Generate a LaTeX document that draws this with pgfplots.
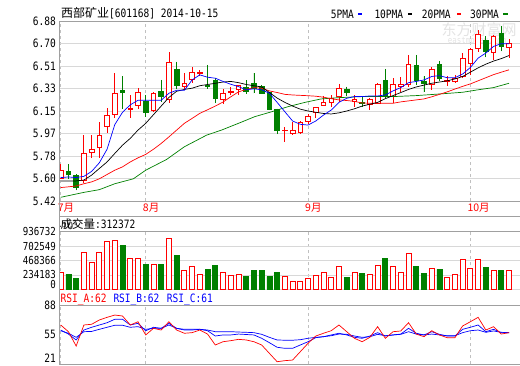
\documentclass[border=0pt]{standalone}
\usepackage{fontspec}
\usepackage{pgfplots}
\pgfplotsset{compat=1.18}
\usepgfplotslibrary{statistics}
\setmainfont{DejaVu Sans Mono}[FakeStretch=0.83]
\newfontfamily\cjk{Noto Sans CJK SC}
\definecolor{kred}{HTML}{FF0000}
\definecolor{kgreen}{HTML}{008000}
\definecolor{kblue}{HTML}{0000FF}
\definecolor{framec}{HTML}{A0A0A0}
\definecolor{gridc}{HTML}{D8D8D8}
\definecolor{dashc}{HTML}{C0C0C0}
\newcommand{\fs}{\fontsize{11.5}{12}\selectfont}
\newcommand{\up}[5]{\addplot[draw=kred, line width=0.8pt, fill=white, boxplot prepared={draw direction=y, draw position=#1, lower whisker=#2, lower quartile=#3, median=#3, upper quartile=#4, upper whisker=#5, box extend=0.6, whisker extend=0}] coordinates {};}
\newcommand{\dn}[5]{\addplot[draw=kgreen, line width=0.8pt, fill=kgreen, boxplot prepared={draw direction=y, draw position=#1, lower whisker=#2, lower quartile=#3, median=#3, upper quartile=#4, upper whisker=#5, box extend=0.6, whisker extend=0}] coordinates {};}
\pgfplotsset{
  panel/.style={
    scale only axis, width=461.5pt, xmin=-0.155, xmax=59.55,
    anchor=north west,
    axis line style={draw=framec, line width=0.8pt},
    major tick length=0pt,
    xtick={0,11,32,53},
    xmajorgrids,
    x grid style={draw=dashc, dashed, line width=0.6pt},
    y grid style={draw=gridc, line width=0.6pt},
    yticklabel style={inner sep=0pt, xshift=-3.5pt, font=\fontsize{11}{11}\selectfont},
  },
}
\begin{document}
\begin{tikzpicture}
\useasboundingbox (0pt,0pt) rectangle (520pt,-365pt);
% watermark
\node[text=gray!22, font=\cjk\fontsize{15}{15}\selectfont] at (479pt,-30pt) {东方财富网};
\node[text=gray!22, font=\fontsize{9}{9}\selectfont] at (477pt,-41pt) {eastmoney.com};
% titles
\node[anchor=west, inner sep=0pt, font=\fs] at (61pt,-13pt) {{\cjk\fontsize{12}{12}\selectfont 西部矿业}[601168] 2014-10-15};
\node[anchor=west, inner sep=0pt, font=\fs] at (330.7pt,-14pt) {5PMA};
\fill[kblue] (357.7pt,-13.3pt) rectangle (361.7pt,-14.8pt);
\node[anchor=west, inner sep=0pt, font=\fs] at (374.3pt,-14pt) {10PMA};
\fill[black] (408pt,-13.3pt) rectangle (412pt,-14.8pt);
\node[anchor=west, inner sep=0pt, font=\fs] at (421.7pt,-14pt) {20PMA};
\fill[kred] (457pt,-13.3pt) rectangle (461pt,-14.8pt);
\node[anchor=west, inner sep=0pt, font=\fs] at (470pt,-14pt) {30PMA};
\fill[kgreen] (503pt,-13.3pt) rectangle (508pt,-14.8pt);
\node[anchor=west, inner sep=0pt, font=\fs] at (60.5pt,-224pt) {{\cjk\fontsize{11.5}{12}\selectfont 成交量}:312372};
\node[anchor=west, inner sep=0pt, font=\fs, text=kred] at (60.5pt,-300pt) {RSI\_A:62};
\node[anchor=west, inner sep=0pt, font=\fs, text=kblue] at (113.3pt,-300pt) {RSI\_B:62};
\node[anchor=west, inner sep=0pt, font=\fs, text=kblue] at (166.7pt,-300pt) {RSI\_C:61};
% main price panel
\begin{axis}[panel, at={(59.5pt,-21pt)}, height=180pt, ymin=5.42, ymax=6.88,
  ytick={5.42,5.6025,5.785,5.9675,6.15,6.3325,6.515,6.6975,6.88},
  yticklabels={5.42,5.60,5.78,5.97,6.15,6.33,6.51,6.70,6.88},
  yticklabel style={font=\fs},
  ymajorgrids,
  xticklabels={{7月},{8月},{9月},{10月}},
  xticklabel style={text=kred, anchor=north west, inner sep=0pt, xshift=-3pt, yshift=-2.5pt, font=\cjk\fontsize{10.5}{11}\selectfont},
]
\up{0}{5.60}{5.60}{5.67}{5.72}
\dn{1}{5.60}{5.635}{5.66}{5.717}
\dn{2}{5.507}{5.53}{5.63}{5.635}
\up{3}{5.565}{5.588}{5.81}{5.955}
\up{4}{5.765}{5.815}{5.838}{5.955}
\up{5}{5.765}{5.855}{5.95}{6.06}
\up{6}{5.973}{6.028}{6.117}{6.177}
\up{7}{6.095}{6.123}{6.294}{6.457}
\dn{8}{6.166}{6.299}{6.318}{6.43}
\up{9}{6.095}{6.16}{6.174}{6.28}
\up{10}{6.164}{6.196}{6.302}{6.34}
\dn{11}{6.104}{6.136}{6.231}{6.28}
\up{12}{6.144}{6.152}{6.294}{6.302}
\dn{13}{6.226}{6.266}{6.313}{6.402}
\up{14}{6.213}{6.248}{6.546}{6.628}
\dn{15}{6.33}{6.356}{6.484}{6.551}
\up{16}{6.32}{6.348}{6.375}{6.457}
\up{17}{6.375}{6.408}{6.465}{6.51}
\up{18}{6.43}{6.455}{6.46}{6.484}
\dn{19}{6.33}{6.35}{6.36}{6.524}
\dn{20}{6.213}{6.253}{6.402}{6.42}
\up{21}{6.205}{6.245}{6.294}{6.33}
\up{22}{6.28}{6.302}{6.313}{6.348}
\up{23}{6.28}{6.322}{6.354}{6.362}
\dn{24}{6.29}{6.313}{6.343}{6.40}
\dn{25}{6.294}{6.335}{6.375}{6.457}
\dn{26}{6.29}{6.294}{6.348}{6.36}
\dn{27}{6.158}{6.164}{6.299}{6.307}
\dn{28}{5.963}{5.99}{6.166}{6.17}
\up{29}{5.90}{5.99}{5.995}{6.02}
\up{30}{5.955}{5.968}{5.99}{6.063}
\up{31}{5.963}{5.977}{6.058}{6.069}
\up{32}{6.042}{6.063}{6.104}{6.123}
\up{33}{6.09}{6.139}{6.182}{6.185}
\up{34}{6.193}{6.199}{6.217}{6.272}
\up{35}{6.185}{6.221}{6.253}{6.28}
\up{36}{6.221}{6.267}{6.33}{6.367}
\dn{37}{6.272}{6.302}{6.322}{6.348}
\up{38}{6.185}{6.231}{6.245}{6.28}
\dn{39}{6.185}{6.213}{6.22}{6.264}
\up{40}{6.158}{6.205}{6.245}{6.253}
\up{41}{6.205}{6.213}{6.367}{6.375}
\dn{42}{6.258}{6.267}{6.402}{6.492}
\up{43}{6.213}{6.267}{6.362}{6.416}
\up{44}{6.307}{6.348}{6.367}{6.424}
\up{45}{6.348}{6.362}{6.524}{6.606}
\dn{46}{6.362}{6.402}{6.516}{6.606}
\dn{47}{6.302}{6.375}{6.394}{6.43}
\up{48}{6.32}{6.367}{6.484}{6.51}
\dn{49}{6.394}{6.416}{6.524}{6.557}
\up{50}{6.356}{6.388}{6.402}{6.43}
\up{51}{6.375}{6.394}{6.416}{6.443}
\up{52}{6.42}{6.43}{6.573}{6.62}
\up{53}{6.44}{6.538}{6.646}{6.66}
\up{54}{6.63}{6.66}{6.77}{6.81}
\dn{55}{6.584}{6.633}{6.72}{6.755}
\up{56}{6.565}{6.628}{6.755}{6.77}
\dn{57}{6.633}{6.674}{6.783}{6.84}
\up{58}{6.58}{6.667}{6.70}{6.733}
% MA30
\addplot[kgreen, line width=0.7pt] coordinates {(0,5.45)(3,5.49)(5,5.512)(7,5.56)(9.4,5.60)(11,5.67)(13.7,5.757)(16,5.86)(18.9,5.955)(20.8,5.995)(23,6.05)(25.1,6.104)(27.3,6.144)(29.4,6.185)(31.6,6.22)(33.7,6.248)(35.9,6.258)(39,6.267)(43,6.267)(46,6.275)(49,6.288)(52,6.302)(54,6.322)(56,6.34)(58,6.375)};
% MA20
\addplot[kred, line width=0.7pt] coordinates {(0,5.529)(1,5.535)(2,5.542)(3,5.56)(4,5.575)(5,5.60)(6,5.635)(7,5.67)(8,5.697)(9,5.737)(10,5.77)(11,5.798)(12,5.84)(13,5.887)(14,5.94)(15,5.995)(16,6.05)(17,6.09)(18,6.131)(19,6.16)(20,6.19)(21,6.223)(22,6.265)(23,6.305)(24,6.325)(25,6.34)(26,6.335)(27,6.313)(28,6.30)(29,6.285)(30,6.28)(31,6.277)(32,6.274)(33,6.27)(34,6.262)(35,6.25)(36,6.24)(37,6.235)(38,6.228)(39,6.215)(40,6.213)(41,6.213)(42,6.213)(43,6.213)(44,6.224)(45,6.232)(46,6.24)(47,6.248)(48,6.265)(49,6.285)(50,6.305)(51,6.328)(52,6.35)(53,6.37)(54,6.395)(55,6.42)(56,6.445)(57,6.465)(58,6.484)};
% MA10
\addplot[black, line width=0.7pt] coordinates {(0,5.583)(1,5.583)(2,5.583)(3,5.59)(4,5.63)(5,5.684)(6,5.737)(7,5.806)(8,5.873)(9,5.928)(10,5.995)(11,6.05)(12,6.12)(13,6.19)(14,6.26)(15,6.31)(16,6.325)(17,6.335)(18,6.355)(19,6.365)(20,6.375)(21,6.385)(22,6.39)(23,6.38)(24,6.365)(25,6.355)(26,6.345)(27,6.30)(28,6.255)(29,6.22)(30,6.19)(31,6.165)(32,6.15)(33,6.14)(34,6.13)(35,6.126)(36,6.135)(37,6.15)(38,6.168)(39,6.19)(40,6.205)(41,6.22)(42,6.25)(43,6.275)(44,6.30)(45,6.325)(46,6.345)(47,6.36)(48,6.375)(49,6.385)(50,6.395)(51,6.41)(52,6.43)(53,6.465)(54,6.50)(55,6.53)(56,6.555)(57,6.575)(58,6.60)};
% MA5
\addplot[kblue, line width=0.7pt] coordinates {(0,5.61)(1,5.615)(2,5.61)(3,5.62)(4,5.66)(5,5.73)(6,5.84)(7,6.04)(8,6.14)(9,6.20)(10,6.237)(11,6.237)(12,6.237)(13,6.237)(14,6.294)(15,6.318)(16,6.318)(17,6.402)(18,6.443)(19,6.424)(20,6.416)(21,6.39)(22,6.367)(23,6.348)(24,6.322)(25,6.33)(26,6.322)(27,6.294)(28,6.22)(29,6.144)(30,6.069)(31,6.042)(32,6.036)(33,6.069)(34,6.117)(35,6.158)(36,6.22)(37,6.253)(38,6.267)(39,6.267)(40,6.272)(41,6.272)(42,6.28)(43,6.313)(44,6.34)(45,6.38)(46,6.39)(47,6.402)(48,6.43)(49,6.437)(50,6.42)(51,6.42)(52,6.45)(53,6.503)(54,6.579)(55,6.62)(56,6.674)(57,6.696)(58,6.696)};
\end{axis}
% volume panel
\begin{axis}[panel, at={(59.5pt,-231.7pt)}, height=57.6pt, ymin=0, ymax=936732,
  ytick={234183,468366,702549,936732}, yticklabels={234183,468366,702549,936732},
  extra y ticks={0}, extra y tick labels={0},
  extra y tick style={yticklabel style={anchor=south east, yshift=0.5pt}},
  ymajorgrids, xticklabels={{},{},{},{}},
  ybar, bar width=5pt]
\addplot[draw=kred, fill=white, line width=0.8pt, bar shift=0pt] coordinates {(0,282000)(3,596000)(4,434000)(5,596000)(6,775000)(7,792000)(9,499000)(10,499000)(12,407000)(14,824000)(16,304000)(17,369000)(18,244000)(21,276000)(22,222000)(23,239000)(29,206000)(30,130000)(31,130000)(32,173000)(33,222000)(34,276000)(35,195000)(36,369000)(38,276000)(40,244000)(41,390000)(43,369000)(44,276000)(45,585000)(48,336000)(50,190000)(51,244000)(52,483000)(53,336000)(54,483000)(56,304000)(58,312372)};
\addplot[draw=kgreen, fill=kgreen, line width=0.8pt, bar shift=0pt] coordinates {(1,244000)(2,179000)(8,716000)(11,407000)(13,407000)(15,553000)(19,325000)(20,390000)(24,211000)(25,309000)(26,309000)(27,211000)(28,276000)(37,195000)(39,260000)(42,504000)(46,374000)(47,260000)(49,325000)(55,358000)(57,304000)};
\end{axis}
% RSI panel
\begin{axis}[panel, at={(59.5pt,-305pt)}, height=59pt, ymin=21, ymax=88,
  ytick={55,88}, yticklabels={55,88},
  yticklabel style={font=\fs},
  extra y ticks={21}, extra y tick labels={21},
  extra y tick style={yticklabel style={anchor=south east, yshift=1.5pt}},
  xticklabels={{},{},{},{}}]
\addplot[kblue, line width=0.7pt] coordinates {(0,58.8)(1,55.9)(2,51.3)(3,57.7)(4,58)(5,60.4)(6,62.7)(7,65)(8,65)(9,62.7)(10,63.4)(11,60.4)(12,61.5)(13,61.5)(14,65.3)(15,61.5)(16,60.4)(17,60.4)(18,60.4)(19,59.6)(20,57.7)(21,57.7)(22,57.7)(23,57.3)(24,57)(25,56.6)(26,54.7)(27,51.3)(28,48.3)(29,48)(30,48)(31,48.6)(32,50.2)(33,51.3)(34,52)(35,53.1)(36,55)(37,54.7)(38,52.8)(39,51.3)(40,52)(41,54.7)(42,53.1)(43,54)(44,54.7)(45,57.7)(46,55)(47,54)(48,55)(49,54)(50,53.1)(51,53.1)(52,56.6)(53,58.8)(54,59.6)(55,57)(56,58.5)(57,57)(58,56.6)};
\addplot[kblue, line width=0.7pt] coordinates {(0,59.6)(1,55)(2,48.3)(3,59.6)(4,62.7)(5,65.3)(6,67.9)(7,71.8)(8,71.8)(9,65.3)(10,67.2)(11,58.8)(12,62.7)(13,61.5)(14,67.2)(15,61.5)(16,59.6)(17,59.6)(18,60.4)(19,58.8)(20,52.8)(21,54)(22,54)(23,55)(24,54.5)(25,54)(26,50.2)(27,45.2)(28,40)(29,38.8)(30,38.8)(31,42.6)(32,46.3)(33,50.9)(34,52)(35,54)(36,55.9)(37,54)(38,51.3)(39,50.2)(40,52.8)(41,56.6)(42,52.8)(43,54)(44,55)(45,61.5)(46,55.9)(47,54)(48,57.7)(49,54.7)(50,52.8)(51,52.8)(52,60.4)(53,62.7)(54,65.3)(55,57.7)(56,60.4)(57,56.6)(58,56.6)};
\addplot[kred, line width=0.7pt] coordinates {(0,65.3)(1,57.7)(2,41.4)(3,65.3)(4,66.1)(5,71)(6,74)(7,76.6)(8,75.5)(9,65.3)(10,69)(11,54)(12,61.5)(13,59.6)(14,69)(15,59.6)(16,55.9)(17,56.6)(18,59.6)(19,55)(20,42.6)(21,46.3)(22,47.5)(23,49)(24,48.3)(25,46.3)(26,42.6)(27,33.1)(28,23.6)(29,24.8)(30,25.5)(31,35)(32,44.5)(33,52.8)(34,55.9)(35,58.8)(36,65.3)(37,57.7)(38,50.2)(39,46.3)(40,51.3)(41,63.4)(42,50.2)(43,57.7)(44,58.5)(45,67.9)(46,55)(47,52)(48,58.8)(49,54)(50,50.9)(51,50.9)(52,64.2)(53,69)(54,74)(55,59.6)(56,63.4)(57,55)(58,56.6)};
\end{axis}
% frame lines
\draw[framec, line width=0.8pt] (59.5pt,-216pt) -- (520pt,-216pt);
\draw[framec, line width=0.8pt] (59.5pt,-21pt) -- (59.5pt,-365pt);
\end{tikzpicture}
\end{document}
